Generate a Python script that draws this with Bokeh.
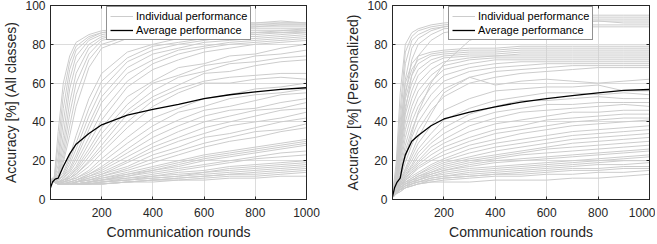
from bokeh.plotting import figure
from bokeh.models import LinearAxis, FixedTicker, Legend, LegendItem, Range1d
from bokeh.layouts import row
from bokeh.embed import file_html
from bokeh.resources import INLINE

# ---------------- data ----------------
ROUNDS = [0, 15, 30, 50, 75, 100, 150, 200, 300, 400, 500, 600, 700, 800, 900, 1000]
AVG_ROUNDS = [0, 8, 18, 30, 40, 50, 75, 100, 150, 200, 300, 400, 500, 600, 700, 800, 900, 1000]

X_TICKS = [200, 400, 600, 800, 1000]
Y_TICKS = [0, 20, 40, 60, 80, 100]

# Left panel: accuracy on all classes
ALL_FAST = [
    [10, 12, 35, 60, 74, 81, 85, 87, 88, 89, 90, 90, 91, 91, 91, 91],
    [10, 11, 28, 54, 71, 79, 84, 86, 88, 89, 89, 90, 91, 91, 92, 91],
    [10, 11, 22, 47, 67, 77, 83, 86, 87, 88, 89, 90, 90, 90, 91, 91],
    [9, 10, 18, 40, 62, 74, 82, 85, 87, 88, 89, 89, 90, 90, 90, 90],
    [10, 10, 15, 33, 57, 70, 80, 84, 86, 87, 88, 89, 89, 89, 90, 90],
    [10, 10, 13, 28, 50, 65, 78, 83, 86, 87, 87, 88, 88, 89, 89, 89],
    [9, 10, 12, 24, 44, 60, 75, 82, 85, 86, 87, 87, 88, 88, 88, 88],
    [10, 10, 12, 21, 38, 54, 72, 80, 84, 85, 86, 86, 87, 87, 87, 87],
    [10, 10, 11, 19, 33, 48, 68, 78, 83, 84, 85, 86, 86, 86, 86, 86],
]
ALL_HIGH = [
    [10, 10, 11, 14, 22, 33, 52, 65, 76, 80, 83, 84, 85, 86, 87, 88],
    [10, 10, 10, 13, 20, 29, 47, 61, 73, 79, 81, 83, 85, 85, 86, 87],
    [10, 10, 10, 12, 18, 26, 43, 57, 71, 77, 80, 82, 84, 84, 85, 86],
    [10, 9, 10, 12, 16, 23, 39, 53, 68, 75, 78, 81, 82, 83, 84, 85],
    [10, 9, 9, 11, 15, 21, 36, 50, 65, 72, 77, 79, 81, 82, 83, 84],
    [10, 9, 9, 11, 14, 19, 32, 45, 61, 70, 75, 78, 80, 81, 82, 83],
    [10, 9, 9, 10, 13, 17, 29, 41, 58, 67, 72, 76, 78, 80, 81, 82],
]
ALL_UPPER_MID = [
    [10, 9, 9, 10, 12, 16, 26, 37, 53, 61, 68, 70, 74, 75, 78, 80],
    [10, 9, 9, 10, 12, 15, 24, 34, 49, 60, 64, 69, 71, 74, 75, 77],
    [10, 9, 9, 10, 11, 14, 22, 31, 46, 56, 63, 66, 70, 71, 73, 74],
    [10, 9, 9, 10, 11, 13, 20, 28, 44, 53, 59, 65, 66, 69, 71, 72],
    [10, 9, 9, 9, 11, 13, 19, 26, 40, 51, 57, 61, 63, 64, 65, 65],
    [10, 9, 9, 9, 10, 12, 17, 24, 37, 48, 55, 60, 60, 62, 63, 62],
]
ALL_MID = [
    [10, 9, 9, 9, 10, 11, 15, 21, 32, 42, 47, 52, 54, 57, 58, 60],
    [10, 9, 8, 9, 10, 11, 14, 19, 29, 38, 45, 48, 52, 54, 55, 57],
    [10, 9, 8, 9, 9, 10, 13, 17, 26, 35, 41, 46, 48, 51, 54, 55],
    [10, 9, 8, 8, 9, 10, 13, 16, 24, 32, 38, 43, 46, 47, 50, 52],
    [10, 9, 8, 8, 9, 10, 12, 15, 22, 29, 35, 40, 43, 46, 47, 50],
    [10, 9, 8, 8, 9, 9, 12, 14, 20, 27, 32, 37, 40, 43, 46, 47],
    [10, 9, 8, 8, 8, 9, 11, 13, 19, 25, 30, 34, 38, 40, 42, 45],
    [10, 9, 8, 8, 8, 9, 11, 13, 17, 23, 27, 32, 34, 37, 40, 42],
    [10, 9, 8, 8, 8, 9, 10, 12, 16, 21, 25, 29, 32, 35, 36, 39],
    [10, 9, 8, 8, 8, 9, 10, 12, 15, 19, 23, 27, 30, 32, 35, 37],
]
ALL_LOW = [
    [10, 9, 8, 8, 8, 9, 10, 11, 14, 17, 20, 23, 25, 27, 29, 31],
    [10, 9, 8, 8, 8, 8, 9, 11, 13, 16, 19, 22, 24, 26, 28, 30],
    [10, 9, 8, 8, 8, 8, 9, 10, 13, 15, 18, 21, 23, 25, 27, 29],
    [10, 9, 8, 8, 8, 8, 9, 10, 12, 15, 17, 20, 22, 24, 26, 28],
    [10, 9, 8, 8, 8, 8, 9, 10, 12, 14, 16, 18, 20, 22, 24, 25],
    [10, 9, 8, 8, 8, 8, 9, 10, 11, 13, 15, 17, 19, 21, 22, 23],
]
ALL_BOTTOM = [
    [10, 9, 8, 8, 8, 8, 9, 9, 11, 12, 14, 15, 17, 18, 19, 20],
    [10, 9, 8, 8, 8, 8, 8, 9, 10, 12, 13, 14, 16, 17, 18, 19],
    [10, 9, 8, 8, 8, 8, 8, 9, 10, 11, 12, 14, 15, 16, 17, 18],
    [10, 9, 8, 8, 8, 8, 8, 9, 10, 11, 12, 13, 14, 15, 16, 17],
    [11, 9, 8, 8, 8, 8, 8, 8, 9, 10, 11, 12, 13, 14, 15, 16],
    [10, 9, 8, 8, 8, 8, 8, 8, 9, 10, 11, 12, 13, 13, 14, 15],
    [10, 9, 8, 8, 8, 8, 8, 8, 9, 10, 10, 11, 12, 12, 13, 14],
    [10, 9, 8, 8, 8, 8, 8, 8, 9, 9, 10, 10, 11, 11, 12, 12],
]
ALL_AVG = [6, 9, 10.5, 11, 14, 17, 23.5, 28.5, 34, 38.5, 43.5, 46.5, 49, 52, 54, 55.5, 56.8, 57.6]

# Right panel: personalized accuracy
PERS_FAST = [
    [2, 20, 55, 80, 86, 88, 90, 91, 92, 93, 94, 94, 95, 95, 95, 95],
    [2, 16, 46, 76, 84, 87, 89, 90, 91, 92, 93, 93, 94, 94, 94, 94],
    [2, 14, 40, 70, 82, 85, 88, 89, 91, 92, 92, 93, 93, 93, 93, 93],
    [1, 12, 34, 62, 78, 83, 87, 89, 90, 91, 91, 92, 92, 92, 92, 92],
    [1, 10, 28, 54, 72, 80, 85, 88, 89, 90, 91, 91, 91, 92, 91, 91],
    [1, 9, 24, 46, 64, 74, 82, 86, 88, 89, 90, 90, 90, 90, 90, 90],
    [1, 6, 12, 22, 34, 45, 60, 70, 82, 87, 88, 89, 89, 89, 89, 89],
]
PERS_HIGH = [
    [2, 14, 36, 60, 70, 74, 76, 77, 78, 78, 79, 79, 79, 79, 79, 79],
    [2, 12, 32, 56, 67, 72, 75, 76, 77, 77, 78, 78, 78, 78, 78, 78],
    [1, 11, 29, 52, 64, 70, 74, 75, 76, 76, 77, 77, 77, 77, 77, 77],
    [1, 10, 26, 48, 60, 67, 72, 74, 75, 75, 76, 76, 76, 76, 76, 76],
    [1, 9, 23, 44, 56, 64, 70, 73, 74, 74, 75, 75, 75, 75, 75, 75],
    [1, 8, 21, 40, 52, 60, 67, 71, 73, 74, 74, 74, 74, 74, 74, 74],
    [1, 8, 19, 36, 48, 56, 64, 69, 72, 73, 73, 73, 73, 73, 73, 73],
    [1, 7, 17, 32, 44, 52, 61, 67, 70, 72, 72, 72, 72, 72, 72, 72],
    [1, 7, 15, 28, 40, 48, 58, 64, 68, 70, 71, 71, 71, 71, 71, 71],
    [1, 6, 13, 25, 36, 44, 54, 61, 66, 68, 69, 70, 70, 70, 70, 70],
    [1, 6, 12, 22, 32, 40, 50, 57, 63, 66, 67, 68, 69, 69, 69, 69],
    [1, 5, 11, 19, 28, 36, 46, 53, 60, 63, 65, 66, 67, 68, 68, 68],
]
PERS_MID = [
    [1, 5, 10, 16, 24, 32, 44, 55, 63, 59, 61, 62, 61, 60, 61, 62],
    [1, 5, 9, 15, 22, 29, 38, 46, 52, 56, 57, 58, 58, 59, 56, 56],
    [1, 4, 9, 14, 20, 26, 34, 41, 47, 51, 53, 55, 55, 54, 55, 54],
    [1, 4, 8, 13, 18, 24, 31, 37, 44, 48, 51, 51, 52, 53, 52, 52],
    [1, 4, 8, 12, 17, 22, 29, 34, 41, 45, 47, 49, 49, 50, 50, 50],
    [1, 4, 8, 12, 16, 20, 27, 31, 38, 42, 45, 46, 47, 48, 49, 48],
    [1, 4, 7, 11, 15, 19, 25, 29, 35, 39, 41, 43, 45, 45, 46, 46],
    [1, 4, 7, 11, 14, 18, 23, 27, 32, 36, 38, 41, 42, 43, 44, 44],
    [1, 4, 7, 10, 13, 17, 21, 25, 30, 34, 36, 38, 40, 41, 42, 42],
    [1, 4, 7, 10, 13, 16, 20, 23, 28, 31, 34, 36, 38, 39, 40, 41],
]
PERS_LOW = [
    [1, 4, 7, 10, 12, 14, 18, 21, 26, 29, 31, 33, 35, 36, 37, 38],
    [1, 4, 7, 9, 11, 13, 17, 20, 24, 27, 29, 31, 33, 34, 35, 36],
    [1, 4, 6, 9, 11, 13, 16, 19, 22, 25, 27, 29, 31, 32, 33, 34],
    [1, 3, 6, 9, 10, 12, 15, 18, 21, 23, 25, 27, 29, 30, 31, 32],
    [1, 3, 6, 8, 10, 12, 14, 17, 20, 22, 24, 26, 27, 28, 29, 30],
    [1, 3, 6, 8, 10, 11, 14, 16, 19, 21, 23, 24, 25, 26, 27, 28],
    [1, 3, 6, 8, 9, 11, 13, 15, 18, 20, 21, 22, 23, 24, 25, 26],
    [1, 3, 5, 8, 9, 10, 13, 15, 17, 19, 20, 21, 22, 23, 24, 25],
]
PERS_BOTTOM = [
    [1, 3, 5, 7, 9, 10, 12, 14, 16, 17, 18, 19, 20, 21, 22, 23],
    [1, 3, 5, 7, 8, 10, 12, 13, 15, 16, 17, 18, 19, 20, 21, 22],
    [1, 3, 5, 7, 8, 9, 11, 12, 14, 15, 16, 17, 18, 19, 20, 20],
    [1, 3, 5, 7, 8, 9, 11, 12, 13, 14, 15, 16, 17, 18, 18, 19],
    [1, 3, 5, 6, 8, 9, 10, 11, 12, 13, 14, 15, 16, 16, 17, 17],
    [1, 3, 5, 6, 7, 8, 10, 11, 12, 13, 13, 14, 15, 15, 16, 16],
    [1, 3, 4, 6, 7, 8, 9, 10, 11, 12, 12, 13, 13, 14, 14, 15],
    [1, 3, 4, 6, 7, 8, 9, 9, 9, 10, 10, 10, 11, 11, 12, 13],
]
PERS_AVG = [1.5, 6, 9, 11, 18, 23, 30, 33, 38, 41.5, 45, 47.8, 50.2, 52, 53.5, 55, 56.2, 56.7]

LEGEND_LABELS = ["Individual performance", "Average performance"]

# ---------------- styling ----------------
FONT = "Liberation Sans"
DARK = "#262626"
GRAY = "#cccccc"


def style_axis(ax, ticks, show_labels=True, standoff=5):
    ax.ticker = FixedTicker(ticks=ticks)
    ax.major_tick_in = 3
    ax.major_tick_out = 0
    ax.minor_tick_line_color = None
    ax.axis_line_color = DARK
    ax.major_tick_line_color = DARK
    ax.major_label_text_font = FONT
    if show_labels:
        ax.major_label_text_color = DARK
        ax.major_label_text_font_size = "12px"
        ax.major_label_standoff = standoff
    else:
        ax.major_label_text_color = None
        ax.major_label_text_font_size = "1px"
        ax.major_label_standoff = 0
    ax.axis_label_text_font = FONT
    ax.axis_label_text_font_size = "14px"
    ax.axis_label_text_font_style = "normal"
    ax.axis_label_text_color = DARK
    ax.axis_label_standoff = 3


def make_panel(groups, avg, ylabel, frame_w, right_border):
    p = figure(frame_width=frame_w, frame_height=194,
               x_range=Range1d(0, 1000), y_range=Range1d(0, 100),
               output_backend="svg", toolbar_location=None,
               min_border_left=43, min_border_right=right_border,
               min_border_top=5, min_border_bottom=37)
    p.outline_line_color = DARK
    p.background_fill_color = "white"
    p.border_fill_color = "white"
    style_axis(p.xaxis[0], X_TICKS, standoff=8)
    p.xaxis.axis_label_standoff = 4
    style_axis(p.yaxis[0], Y_TICKS)
    p.xaxis.axis_label = "Communication rounds"
    p.yaxis.axis_label = ylabel
    p.xgrid.ticker = FixedTicker(ticks=X_TICKS)
    p.ygrid.ticker = FixedTicker(ticks=Y_TICKS)
    p.grid.grid_line_color = "#dcdcdc"
    p.grid.grid_line_width = 1

    top = LinearAxis()
    style_axis(top, X_TICKS, show_labels=False)
    p.add_layout(top, "above")
    right = LinearAxis()
    style_axis(right, Y_TICKS, show_labels=False)
    p.add_layout(right, "right")

    lines = [ln for g in groups for ln in g]
    r_ind = p.multi_line(xs=[ROUNDS] * len(lines), ys=lines,
                         line_color=GRAY, line_width=1)
    r_avg = p.line(AVG_ROUNDS, avg, line_color="black", line_width=1.3)

    legend = Legend(items=[LegendItem(label=LEGEND_LABELS[0], renderers=[r_ind]),
                           LegendItem(label=LEGEND_LABELS[1], renderers=[r_avg])],
                    location=(56, 159),
                    border_line_color=DARK, border_line_width=1,
                    background_fill_color="white", background_fill_alpha=1,
                    label_text_font=FONT, label_text_font_size="11px",
                    label_text_color="black",
                    glyph_width=23, glyph_height=12, label_height=12,
                    label_standoff=3, padding=3, spacing=2, margin=0)
    p.add_layout(legend)
    return p


p1 = make_panel([ALL_FAST, ALL_HIGH, ALL_UPPER_MID, ALL_MID, ALL_LOW, ALL_BOTTOM],
                ALL_AVG, "Accuracy [%] (All classes)", 256, 36)
p2 = make_panel([PERS_FAST, PERS_HIGH, PERS_MID, PERS_LOW, PERS_BOTTOM],
                PERS_AVG, "Accuracy [%] (Personalized)", 257, 6)

p = row(p1, p2)
open("out.html", "w").write(file_html(p, INLINE))
